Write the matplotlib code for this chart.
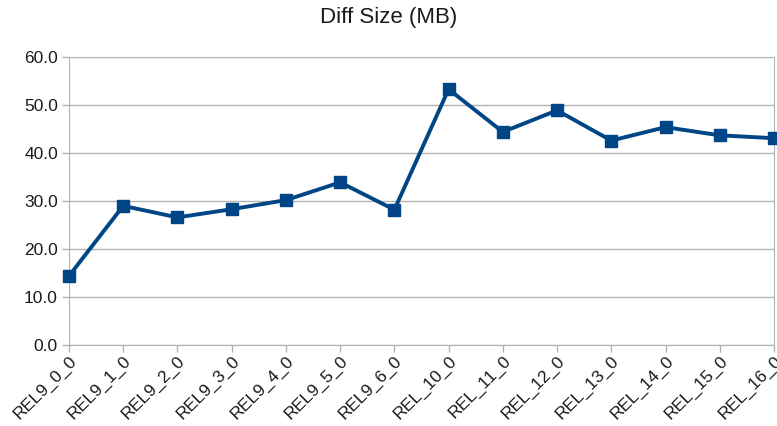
import matplotlib.pyplot as plt
from matplotlib.ticker import FormatStrFormatter

releases = ["REL9_0_0", "REL9_1_0", "REL9_2_0", "REL9_3_0", "REL9_4_0", "REL9_5_0",
            "REL9_6_0", "REL_10_0", "REL_11_0", "REL_12_0", "REL_13_0", "REL_14_0",
            "REL_15_0", "REL_16_0"]
diff_mb = [14.4, 29.0, 26.6, 28.3, 30.2, 33.9, 28.2, 53.3, 44.4, 48.9, 42.6, 45.4, 43.7, 43.1]

plt.rcParams["font.family"] = ["Liberation Sans", "DejaVu Sans"]

fig = plt.figure(figsize=(7.77, 4.26), dpi=100)
ax = fig.add_axes([0.0888, 0.190, 0.9073, 0.676])

grid_col = "#b3b3b3"
x = list(range(len(releases)))
ax.plot(x, diff_mb, color="#004586", linewidth=2.8, marker="s", markersize=9,
        zorder=3, clip_on=False)

ax.set_xlim(0, len(releases) - 1)
ax.set_ylim(0, 60)
ax.set_yticks(range(0, 61, 10))
ax.yaxis.set_major_formatter(FormatStrFormatter("%.1f"))
ax.set_xticks(x)
ax.set_xticklabels(releases, rotation=45, ha="right", va="top", rotation_mode="anchor")

ax.grid(axis="y", color=grid_col, linewidth=1)
ax.set_axisbelow(True)
for side in ["left", "bottom", "right"]:
    ax.spines[side].set_color(grid_col)
ax.spines["top"].set_visible(False)
ax.tick_params(axis="both", colors=grid_col, labelcolor="#1a1a1a", labelsize=12.5,
               length=5, width=1)
ax.tick_params(axis="x", pad=1)
ax.tick_params(axis="y", pad=3)

fig.text(0.5, 0.96, "Diff Size (MB)", ha="center", va="center", fontsize=16, color="#1a1a1a")

fig.savefig("out.png", dpi=100)
